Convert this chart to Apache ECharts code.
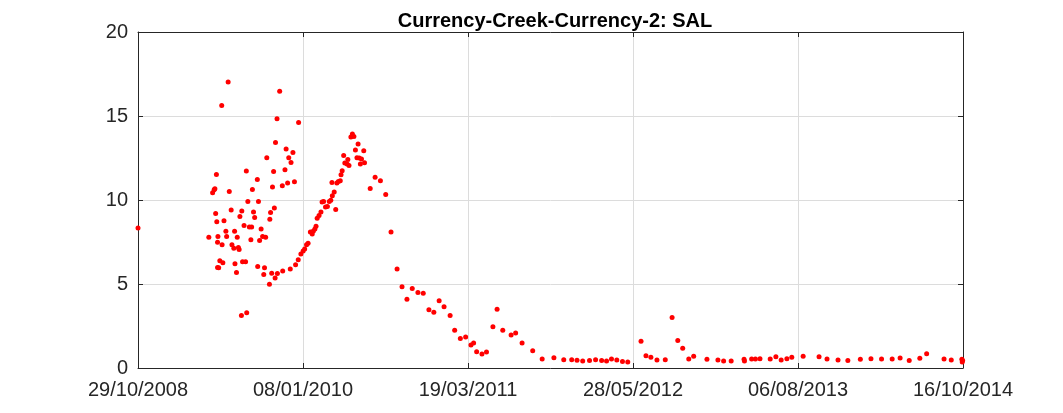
<!DOCTYPE html>
<html>
<head>
<meta charset="utf-8">
<script src="https://cdn.jsdelivr.net/npm/echarts@6/dist/echarts.min.js"></script>
<style>html,body{margin:0;padding:0;background:#fff}#c{width:1063px;height:413px}</style>
</head>
<body>
<div id="c"></div>
<script>
// Days since 29/10/2008
const dayOffset = [
  0,187,197,201,203,205,207,208,210,210,
  211,213,216,221,222,224,227,232,234,238,
  241,246,248,253,255,256,260,262,265,267,
  269,273,274,276,280,284,286,287,290,294,
  298,300,302,305,308,315,316,318,321,325,
  329,332,334,337,340,347,348,350,353,355,
  358,360,362,363,367,368,374,381,382,388,
  391,395,398,402,404,409,413,416,423,424,
  430,436,440,445,449,455,460,463,467,470,
  473,478,483,486,490,495,500,505,509,512,
  513,518,522,525,529,534,536,539,543,546,
  552,554,557,562,566,570,574,578,581,584,
  587,590,596,598,613,626,640,654,668,684,
  697,710,724,739,753,768,781,795,808,824,
  836,851,865,879,886,894,908,920,937,948,
  963,985,997,1014,1042,1067,1098,1124,1145,1159,
  1174,1192,1208,1224,1237,1250,1264,1279,1293,1328,
  1341,1354,1370,1392,1410,1425,1438,1454,1467,1502,
  1531,1546,1566,1600,1601,1620,1630,1642,1669,1684,
  1698,1713,1726,1756,1798,1819,1848,1874,1907,1935,
  1963,1991,2012,2036,2064,2082,2128,2147,2175,2176,2177
];
const salinity = [
  8.33,7.78,10.43,10.61,10.67,9.2,11.52,8.7,7.49,5.98,
  7.82,5.96,6.39,15.62,7.33,6.27,8.77,8.14,7.82,17.02,
  10.5,9.4,7.33,7.13,8.14,6.21,5.68,7.78,7.17,7.05,
  9.02,3.13,9.34,6.33,8.48,6.33,11.72,3.29,9.91,8.4,
  7.63,8.4,10.63,9.28,8.96,11.22,6.04,9.91,7.59,8.27,
  7.82,5.56,5.96,7.78,12.51,4.99,8.86,9.25,5.64,10.77,
  11.7,9.52,5.36,13.43,14.84,5.62,16.47,10.85,5.78,11.8,
  13.03,11.01,12.51,5.9,12.23,12.83,11.08,6.14,6.44,14.62,
  6.79,6.97,7.09,7.33,7.43,8.09,7.97,8.16,8.28,8.44,
  8.92,9.08,9.28,9.88,9.91,9.59,9.61,9.91,9.99,11.04,
  10.25,10.47,9.43,11.01,11.1,11.14,11.5,11.74,12.65,12.2,
  12.14,12.41,12.06,13.75,13.93,13.78,12.97,12.51,13.33,12.5,
  12.14,12.44,12.93,12.22,10.69,11.36,11.14,10.33,8.09,5.9,
  4.83,4.09,4.73,4.49,4.45,3.46,3.32,4.01,3.64,3.12,
  2.25,1.75,1.85,1.37,1.49,0.97,0.83,0.95,2.46,3.5,
  2.25,1.97,2.09,1.49,1.03,0.54,0.61,0.49,0.49,0.46,
  0.42,0.44,0.49,0.44,0.42,0.54,0.48,0.38,0.36,1.59,
  0.73,0.64,0.48,0.49,3.0,1.63,1.17,0.54,0.7,0.52,
  0.48,0.42,0.42,0.52,0.42,0.54,0.54,0.55,0.54,0.67,
  0.48,0.55,0.64,0.7,0.67,0.54,0.48,0.44,0.52,0.55,
  0.54,0.54,0.6,0.44,0.58,0.85,0.54,0.48,0.52,0.36,0.45
];
const xTickLabels = ['29/10/2008','08/01/2010','19/03/2011','28/05/2012','06/08/2013','16/10/2014'];
const xMax = 2178;
const xStep = 435.6;
const yTicks = [0, 5, 10, 15, 20];

const points = dayOffset.map((d, i) => [d, salinity[i]]);
const font = 'Liberation Sans, Arial, Helvetica, sans-serif';
const ink = '#262626';
const gridCol = '#dcdcdc';

function frameAxis(extra) {
  return Object.assign({
    type: 'value',
    axisLine: {show: true, onZero: false, lineStyle: {color: ink, width: 1}},
    axisTick: {show: true, inside: true, length: 5, lineStyle: {color: ink}},
    axisLabel: {show: false},
    splitLine: {show: false}
  }, extra);
}

const chart = echarts.init(document.getElementById('c'), null, {renderer: 'canvas'});
chart.setOption({
  animation: false,
  backgroundColor: '#fff',
  title: {
    text: 'Currency-Creek-Currency-2: SAL',
    left: 550, textAlign: 'center', top: 6,
    textStyle: {fontSize: 20, fontWeight: 'bold', color: '#000', fontFamily: font}
  },
  grid: {left: 138, right: 100, top: 32, bottom: 45, show: false},
  xAxis: [
    frameAxis({
      position: 'bottom', min: 0, max: xMax, interval: xStep,
      axisLabel: {
        show: true, fontSize: 20, color: ink, fontFamily: font, margin: 12,
        showMinLabel: true, showMaxLabel: true,
        formatter: v => { const i = Math.round(v / xStep); return xTickLabels[i] || ''; }
      },
      splitLine: {show: true, lineStyle: {color: gridCol, width: 1}}
    }),
    frameAxis({position: 'top', min: 0, max: xMax, interval: xStep})
  ],
  yAxis: [
    frameAxis({
      position: 'left', min: yTicks[0], max: yTicks[yTicks.length - 1], interval: 5,
      axisLabel: {show: true, fontSize: 20, color: ink, fontFamily: font, margin: 10},
      splitLine: {show: true, lineStyle: {color: gridCol, width: 1}}
    }),
    frameAxis({position: 'right', min: yTicks[0], max: yTicks[yTicks.length - 1], interval: 5})
  ],
  series: [{
    type: 'scatter', xAxisIndex: 0, yAxisIndex: 0,
    data: points, symbol: 'circle', symbolSize: 5, clip: false,
    itemStyle: {color: '#ff0000', opacity: 1}
  }]
});
</script>
</body>
</html>
